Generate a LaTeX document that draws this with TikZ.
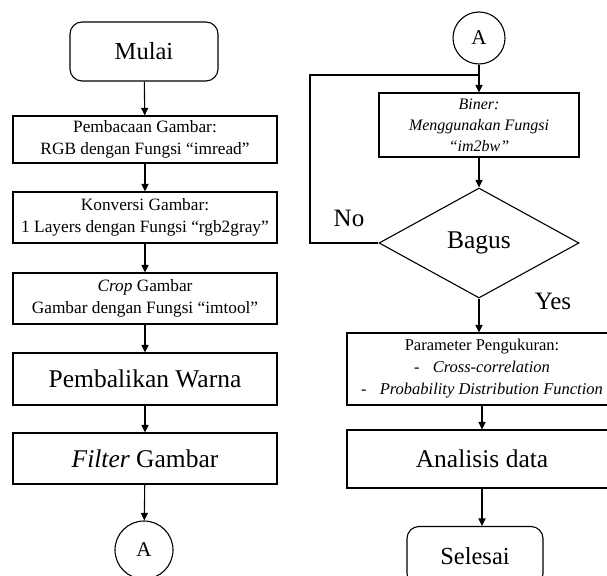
\documentclass[tikz,border=0pt]{standalone}
\usepackage{fontspec}
\setmainfont{Liberation Serif}
\usetikzlibrary{shapes.geometric,arrows.meta}
\begin{document}
\begin{tikzpicture}[x=1pt,y=-1pt,
  ln/.style={line width=1.1pt},
  box/.style={draw, ln, minimum width=264pt, inner sep=2pt, align=center},
  wbox/.style={draw, ln, minimum width=270pt, inner sep=2pt, align=center},
  small/.style={font=\fontsize{17.3}{22}\selectfont},
  big/.style={font=\fontsize{25.5}{29}\selectfont},
  term/.style={draw, ln, rounded corners=12pt, inner sep=2pt, align=center},
  conn/.style={draw, ln, circle, inner sep=0pt, font=\fontsize{21}{24}\selectfont},
  dec/.style={draw, ln, diamond, inner sep=0pt, minimum width=200pt, minimum height=110pt, aspect=1.8},
  arr/.style={ln, -{Triangle[length=7.5pt,width=7pt]}},
  lbl/.style={inner sep=0pt, font=\fontsize{25}{28}\selectfont}
]
\useasboundingbox (0,0) rectangle (607,575);
\clip (0,0) rectangle (607,575);

% left column
\node[term, font=\fontsize{24.5}{28}\selectfont, minimum width=148pt, minimum height=59pt] (mulai) at (144,51.5) {Mulai};
\node[box, small, minimum height=47pt] (b1) at (145,139.5) {Pembacaan Gambar:\\RGB dengan Fungsi “imread”};
\node[box, small, minimum height=51pt] (b2) at (145,217.5) {Konversi Gambar:\\1 Layers dengan Fungsi “rgb2gray”};
\node[box, small, minimum height=51pt] (b3) at (145,298.5) {\textit{Crop} Gambar\\Gambar dengan Fungsi “imtool”};
\node[box, big, minimum height=52pt] (b4) at (145,379) {Pembalikan Warna};
\node[box, big, minimum height=51pt] (b5) at (145,458.5) {\textit{Filter} Gambar};
\node[conn, minimum size=58pt] (ca1) at (144,550) {A};

\draw[arr] (mulai) -- (b1);
\draw[arr] (b1) -- (b2);
\draw[arr] (b2) -- (b3);
\draw[arr] (b3) -- (b4);
\draw[arr] (b4) -- (b5);
\draw[arr] (b5) -- (ca1);

% right column
\node[conn, minimum size=52pt] (ca2) at (479,38) {A};
\node[draw, ln, minimum width=200pt, minimum height=64pt, inner sep=2pt, align=center,
      font=\fontsize{16}{21}\selectfont\itshape] (biner) at (479,125) {Biner:\\Menggunakan Fungsi\\“im2bw”};
\node[dec, big] (bagus) at (479,243) {Bagus};
\node[wbox, font=\fontsize{16.5}{22}\selectfont, minimum height=72pt] (param) at (482,369)
  {Parameter Pengukuran:\\-\hspace{0.8em}\textit{Cross-correlation}\\-\hspace{0.8em}\textit{Probability Distribution Function}};
\node[wbox, big, minimum height=58pt] (anal) at (482,459) {Analisis data};
\node[term, font=\fontsize{24.5}{28}\selectfont, minimum width=136pt, minimum height=59pt] (selesai) at (475,556) {Selesai};

\coordinate (loopc) at (310,75);
\coordinate (join) at (ca2.south |- loopc);

\draw[arr] (ca2) -- (biner);
\draw[arr] (biner) -- (bagus);
\draw[ln] (bagus.west) -| (loopc) -- (join);
\draw[arr] (bagus.south) -- (bagus.south |- param.north);
\draw[arr] (param) -- (anal);
\draw[arr] (anal.south) -- (anal.south |- selesai.north);

\node[lbl] (no) at (349,218) {No};
\node[lbl] (yes) at (553,301) {Yes};
\end{tikzpicture}
\end{document}
